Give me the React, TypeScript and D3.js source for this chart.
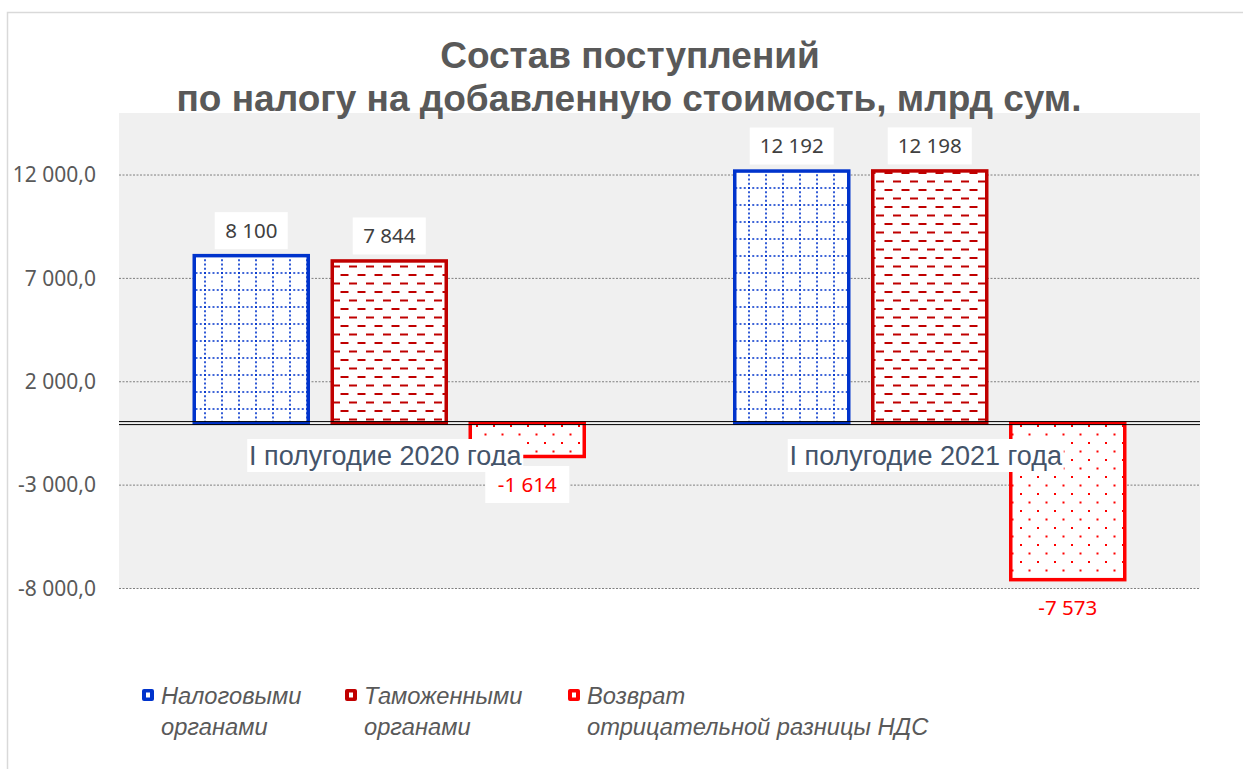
import React from "react";
import { scaleBand, scaleLinear } from "d3";

const categories = ["I полугодие 2020 года", "I полугодие 2021 года"];
const seriesNames = [
  ["Налоговыми", "органами"],
  ["Таможенными", "органами"],
  ["Возврат", "отрицательной разницы НДС"]
];
const taxAuthorities = [8100, 12192];
const customsAuthorities = [7844, 12198];
const vatRefund = [-1614, -7573];
const yTicks = [-8000, -3000, 2000, 7000, 12000];

const W = 1243;
const H = 769;
const PLOT = { left: 119, right: 1200, top: 113, bottom: 588.5 };

const COLORS = ["#0033cc", "#c00000", "#ff0000"];
const FILLS = ["url(#pGrid)", "url(#pDash)", "url(#pDots)"];

const fmt = (v: number) => {
  const s = Math.abs(v).toString().replace(/\B(?=(\d{3})+(?!\d))/g, " ");
  return (v < 0 ? "-" : "") + s;
};
const fmtAxis = (v: number) => fmt(v) + ",0";

export default function App() {
  const series = [taxAuthorities, customsAuthorities, vatRefund];

  const x = scaleBand<string>()
    .domain(categories)
    .range([PLOT.left, PLOT.right]);
  const y = scaleLinear()
    .domain([-8000, 15000])
    .range([PLOT.bottom, PLOT.top]);

  const groupW = 390;
  const y0 = y(0);

  const innerFor = (c: string) => {
    const cx = x(c)! + x.bandwidth() / 2;
    return scaleBand<number>()
      .domain([0, 1, 2])
      .range([cx - groupW / 2, cx + groupW / 2])
      .paddingInner(0.174);
  };

  return (
    <svg
      width={W}
      height={H}
      style={{ position: "absolute", left: 0, top: 0, background: "#fff" }}
    >
      <defs>
        <pattern id="pGrid" patternUnits="userSpaceOnUse" width={17} height={17}>
          <rect width={17} height={17} fill="#fff" />
          <line x1={1} y1={0} x2={1} y2={17} stroke="#0033cc" strokeWidth={1.6} strokeDasharray="2 2.25" />
          <line x1={0} y1={1} x2={17} y2={1} stroke="#0033cc" strokeWidth={1.6} strokeDasharray="2 2.25" />
        </pattern>
        <pattern id="pDash" patternUnits="userSpaceOnUse" width={17} height={17}>
          <rect width={17} height={17} fill="#fff" />
          <line x1={0.5} y1={3} x2={8.5} y2={3} stroke="#c00000" strokeWidth={2} />
          <line x1={9} y1={11.5} x2={17} y2={11.5} stroke="#c00000" strokeWidth={2} />
        </pattern>
        <pattern id="pDots" patternUnits="userSpaceOnUse" width={17} height={17}>
          <rect width={17} height={17} fill="#fff" />
          <rect x={0} y={0} width={2} height={2} fill="#ff0000" />
          <rect x={8.5} y={8.5} width={2} height={2} fill="#ff0000" />
        </pattern>
      </defs>

      {/* chart border */}
      <rect x={7.5} y={12.5} width={W + 20} height={H + 20} fill="none" stroke="#d9d9d9" strokeWidth={1.5} />

      {/* plot area */}
      <rect x={PLOT.left} y={PLOT.top} width={PLOT.right - PLOT.left} height={PLOT.bottom - PLOT.top} fill="#f0f0f0" />

      {/* title */}
      <g fontFamily="'Liberation Sans', Arial, sans-serif" fontWeight="bold" fill="#595959" textAnchor="middle">
        <text x={630} y={68} fontSize={37}>Состав поступлений</text>
        <text x={629} y={111} fontSize={37}>по налогу на добавленную стоимость, млрд сум.</text>
      </g>

      {yTicks.map(t => (
        <g key={t}>
          <line
            x1={PLOT.left}
            x2={PLOT.right}
            y1={y(t)}
            y2={y(t)}
            stroke="#7f7f7f"
            strokeWidth={1}
            strokeDasharray="2 1.5"
          />
          <text
            x={96}
            y={y(t)}
            dy="0.35em"
            textAnchor="end"
            fontFamily="'Noto Sans', 'Open Sans', sans-serif"
            fontSize={21}
            fill="#595959"
          >
            {fmtAxis(t)}
          </text>
        </g>
      ))}

      {/* bars */}
      {categories.map((c, ci) => {
        const inner = innerFor(c);
        return (
          <g key={c}>
            {series.map((s, si) => {
              const v = s[ci];
              const top = Math.min(y(v), y0);
              const h = Math.abs(y(v) - y0);
              return (
                <rect
                  key={si}
                  x={inner(si)!}
                  y={top}
                  width={inner.bandwidth()}
                  height={h}
                  fill={FILLS[si]}
                  stroke={COLORS[si]}
                  strokeWidth={3.5}
                />
              );
            })}
          </g>
        );
      })}

      {/* zero axis (double line) */}
      <line x1={PLOT.left} x2={PLOT.right} y1={y0 - 1.5} y2={y0 - 1.5} stroke="#000" strokeWidth={1} />
      <line x1={PLOT.left} x2={PLOT.right} y1={y0 + 1.5} y2={y0 + 1.5} stroke="#000" strokeWidth={1} />

      {/* category labels */}
      {categories.map(c => {
        const cx = x(c)! + x.bandwidth() / 2 - 4;
        const w = 276;
        return (
          <g key={c}>
            <rect x={cx - w / 2} y={439} width={w} height={33} fill="#fff" />
            <text
              x={cx}
              y={456}
              dy="0.35em"
              textAnchor="middle"
              fontFamily="'Liberation Sans', Arial, sans-serif"
              fontSize={27}
              fill="#44546a"
            >
              {c}
            </text>
          </g>
        );
      })}

      {/* data labels */}
      {categories.map((c, ci) => {
        const inner = innerFor(c);
        return (
          <g key={c}>
            {series.map((s, si) => {
              const v = s[ci];
              const lx = inner(si)! + inner.bandwidth() / 2;
              const ly = v >= 0 ? y(v) - 25 : y(v) + 28;
              const label = fmt(v);
              const bw = label.length * 11 + 18;
              return (
                <g key={si}>
                  <rect x={lx - bw / 2} y={ly - 18.5} width={bw} height={37} fill="#fff" />
                  <text
                    x={lx}
                    y={ly}
                    dy="0.35em"
                    textAnchor="middle"
                    fontFamily="'Noto Sans', 'Open Sans', sans-serif"
                    fontSize={20.5}
                    fill={v < 0 ? "#ff0000" : "#404040"}
                  >
                    {label}
                  </text>
                </g>
              );
            })}
          </g>
        );
      })}

      {/* legend */}
      {seriesNames.map((lines, i) => {
        const lx = [142, 345, 568][i];
        return (
          <g key={i}>
            <rect x={lx} y={689} width={12} height={12} rx={2} fill={COLORS[i]} />
            <rect x={lx + 4} y={692.5} width={4} height={5} fill="#fff" />
            <text
              fontFamily="'Liberation Sans', Arial, sans-serif"
              fontStyle="italic"
              fontSize={23.7}
              fill="#595959"
            >
              <tspan x={lx + 19} y={704}>{lines[0]}</tspan>
              <tspan x={lx + 19} y={735}>{lines[1]}</tspan>
            </text>
          </g>
        );
      })}
    </svg>
  );
}
